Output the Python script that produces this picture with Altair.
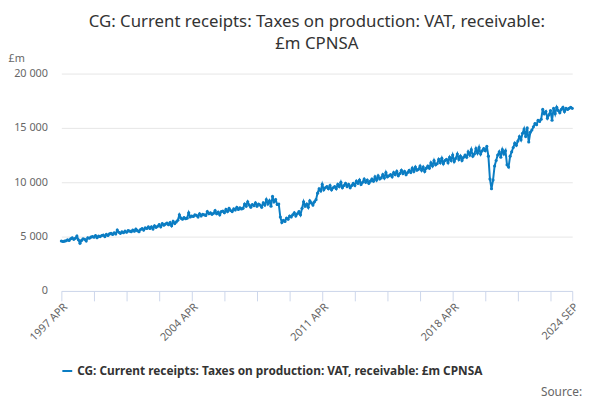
import altair as alt
import pandas as pd

months = ["JAN", "FEB", "MAR", "APR", "MAY", "JUN", "JUL", "AUG", "SEP", "OCT", "NOV", "DEC"]

v1997 = [4600, 4550, 4580, 4620, 4700, 4650, 4800, 4900, 4750]
v1998 = [4850, 5050, 4700, 4400, 4650, 4800, 4750, 4600, 4900, 4850, 4950, 5000]
v1999 = [4950, 5100, 4900, 5050, 5000, 5100, 5150, 5000, 5200, 5100, 5250, 5300]
v2000 = [5200, 5350, 5250, 5600, 5400, 5300, 5450, 5350, 5500, 5400, 5550, 5500]
v2001 = [5450, 5600, 5500, 5700, 5550, 5450, 5650, 5750, 5600, 5800, 5750, 5900]
v2002 = [5750, 5900, 5700, 6000, 5850, 5950, 6100, 5900, 6200, 6050, 6150, 6250]
v2003 = [6100, 6300, 6000, 6400, 6200, 6350, 6500, 7000, 6700, 6600, 6750, 6650]
v2004 = [6700, 7200, 6800, 6900, 6850, 7000, 6950, 6800, 7100, 6900, 7050, 7000]
v2005 = [6950, 7300, 7100, 7200, 7050, 7150, 7400, 7100, 7250, 7000, 7300, 7350]
v2006 = [7200, 7500, 7300, 7600, 7400, 7300, 7550, 7450, 7700, 7500, 7650, 7550]
v2007 = [7600, 8000, 7800, 8200, 7900, 7700, 7950, 7850, 8100, 7800, 8000, 7900]
v2008 = [7700, 8100, 7900, 8400, 8000, 8300, 7800, 8700, 8200, 8400, 7950, 8000]
v2009 = [6800, 6300, 6500, 6400, 6700, 6600, 6900, 6800, 7000, 7200, 6900, 7100]
v2010 = [7300, 7000, 7600, 8200, 7800, 8000, 7700, 8300, 8100, 7900, 8200, 8400]
v2011 = [9000, 9400, 9200, 9800, 9300, 9500, 9600, 9400, 9700, 9300, 9500, 9600]
v2012 = [9400, 9800, 9600, 10000, 9500, 9700, 9900, 9600, 9800, 9500, 9700, 9900]
v2013 = [9700, 10100, 9900, 10200, 9800, 10000, 10300, 10000, 10200, 9900, 10100, 10300]
v2014 = [10100, 10500, 10200, 10600, 10300, 10400, 10700, 10400, 10900, 10500, 10600, 10700]
v2015 = [10500, 10900, 10700, 11000, 10600, 10800, 11100, 10800, 11000, 10700, 10900, 11100]
v2016 = [10900, 11300, 11000, 11400, 11100, 11200, 11500, 11100, 11400, 11000, 11300, 11500]
v2017 = [11300, 11800, 11500, 12000, 11600, 11700, 12100, 11800, 12200, 11700, 12000, 12100]
v2018 = [11800, 12300, 12000, 12500, 11900, 12200, 12600, 12100, 12400, 12000, 12300, 12500]
v2019 = [12300, 12800, 12500, 13000, 12400, 12600, 13100, 12700, 13200, 12600, 12900, 13100]
v2020 = [12900, 13300, 12400, 10300, 9400, 10200, 11500, 12000, 12500, 12800, 12300, 13000]
v2021 = [12600, 12900, 11600, 11400, 12400, 12800, 13200, 13600, 13400, 13800, 14200, 13900]
v2022 = [14500, 14900, 14200, 15000, 13700, 14600, 14800, 15100, 15400, 15300, 15700, 15600]
v2023 = [15800, 16700, 16300, 16500, 15900, 16200, 16600, 15700, 16800, 16300, 16900, 16600]
v2024 = [16400, 16700, 16900, 16500, 16800, 16700, 16800, 16900, 16800]

by_year = {1997: v1997, 1998: v1998, 1999: v1999, 2000: v2000, 2001: v2001, 2002: v2002,
           2003: v2003, 2004: v2004, 2005: v2005, 2006: v2006, 2007: v2007, 2008: v2008,
           2009: v2009, 2010: v2010, 2011: v2011, 2012: v2012, 2013: v2013, 2014: v2014,
           2015: v2015, 2016: v2016, 2017: v2017, 2018: v2018, 2019: v2019, 2020: v2020,
           2021: v2021, 2022: v2022, 2023: v2023, 2024: v2024}

series = "CG: Current receipts: Taxes on production: VAT, receivable: £m CPNSA"
rows = []
for yr, vals in by_year.items():
    start = 3 if yr == 1997 else 0
    for i, v in enumerate(vals):
        rows.append({"period": f"{yr} {months[start + i]}", "value": v, "series": series})
df = pd.DataFrame(rows)
periods = list(df["period"])

tick_values = periods[::21] + [periods[-1]]
label_values = ["1997 APR", "2004 APR", "2011 APR", "2018 APR", "2024 SEP"]
label_expr = "indexof(" + str(label_values).replace("'", '"') + ", datum.value) >= 0 ? datum.value : ''"

blue = "#0b7dc3"
line = alt.Chart(df).mark_line(
    color=blue, strokeWidth=2, point=alt.OverlayMarkDef(size=10, color=blue, filled=True)
).encode(
    x=alt.X("period:O", sort=periods, title=None,
            scale=alt.Scale(type="point", padding=0),
            axis=alt.Axis(values=tick_values, labelExpr=label_expr, labelAngle=-45,
                          labelColor="#666", labelFontSize=11, tickColor="#ccd6eb",
                          domainColor="#ccd6eb", tickSize=10, grid=False, labelPadding=0)),
    y=alt.Y("value:Q", title="£m", scale=alt.Scale(domain=[0, 20000]),
            axis=alt.Axis(values=[0, 5000, 10000, 15000, 20000], format=",.0f",
                          labelExpr="replace(datum.label, ',', ' ')",
                          labelColor="#666", labelFontSize=11, gridColor="#e6e6e6",
                          domain=False, ticks=False, titleAngle=0, titleAnchor="end",
                          titleAlign="left", titleX=-54, titleY=-10, titleFontWeight="normal",
                          titleColor="#666", titleFontSize=11, labelPadding=14)),
    color=alt.Color("series:N", scale=alt.Scale(range=[blue]),
                    legend=alt.Legend(orient="bottom", title=None, labelFontSize=12,
                                      labelColor="#333", labelFontWeight="bold",
                                      symbolType="stroke", symbolStrokeWidth=2,
                                      labelLimit=600, offset=22, padding=0)),
)

source = alt.Chart(pd.DataFrame({"t": ["Source:"]})).mark_text(
    align="right", fontSize=12, color="#666", font="Noto Sans"
).encode(text="t:N", x=alt.value(527), y=alt.value(322))

chart = alt.layer(line, source).properties(
    width=517, height=220,
    title=alt.Title(["CG: Current receipts: Taxes on production: VAT, receivable:", "£m CPNSA"],
                    fontSize=17, fontWeight="normal", color="#333", font="Noto Sans",
                    anchor="middle", offset=0, lineHeight=22),
    padding={"left": 0, "top": 3, "right": 10, "bottom": 0},
).configure(font="Noto Sans").configure_view(stroke=None)

chart.save("out.html", embed_options={"renderer": "svg", "actions": False})
